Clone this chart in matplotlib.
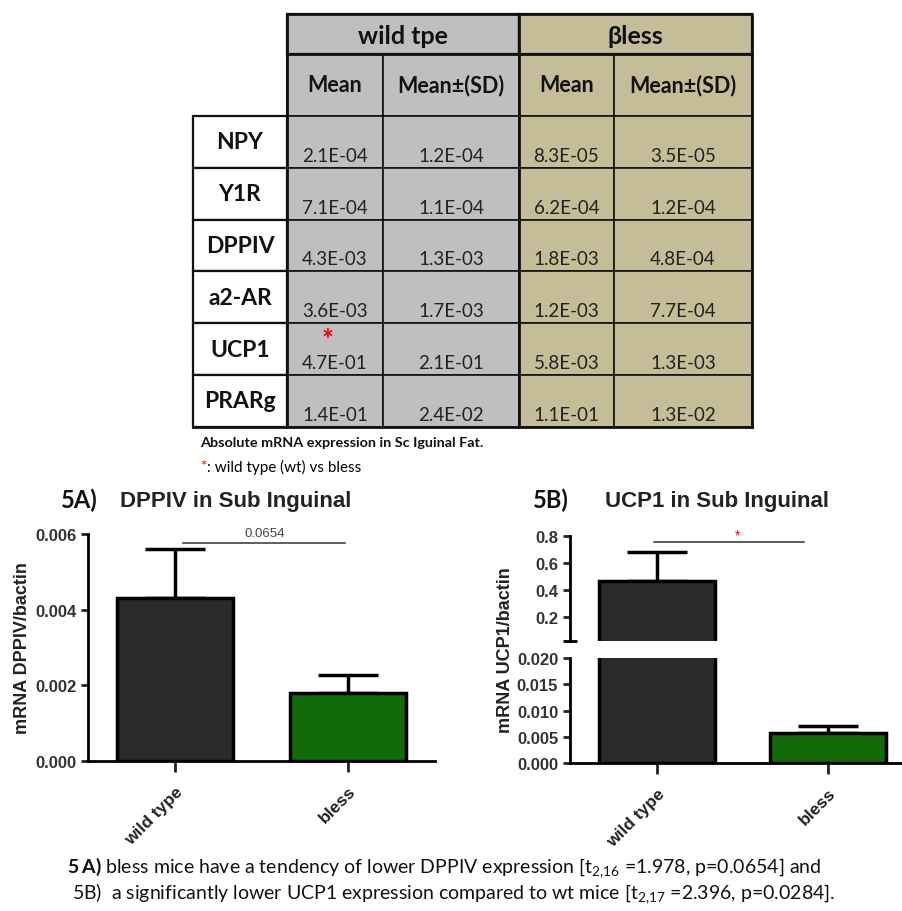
# Tabla de expresion de mRNA y graficas 5A / 5B
import numpy as np
import matplotlib.pyplot as plt
from matplotlib.patches import Rectangle

plt.rcParams['mathtext.fontset'] = 'custom'
plt.rcParams['mathtext.rm'] = 'Lato'
plt.rcParams['mathtext.bf'] = 'Lato:bold'

# Datos de la tabla
genes = ['NPY', 'Y1R', 'DPPIV', 'a2-AR', 'UCP1', 'PRARg']
wt_mean = [2.1e-4, 7.1e-4, 4.3e-3, 3.6e-3, 4.7e-1, 1.4e-1]
wt_sd = [1.2e-4, 1.1e-4, 1.3e-3, 1.7e-3, 2.1e-1, 2.4e-2]
bl_mean = [8.3e-5, 6.2e-4, 1.8e-3, 1.2e-3, 5.8e-3, 1.1e-1]
bl_sd = [3.5e-5, 1.2e-4, 4.8e-4, 7.7e-4, 1.3e-3, 1.3e-2]
grupos_tabla = ['wild tpe', 'βless']
subcols = ['Mean', 'Mean±(SD)']
gen_sig = 'UCP1'

# Datos de las barras
grupos = ['wild type', 'bless']
dppiv_mean = [4.3e-3, 1.8e-3]
dppiv_sd = [1.3e-3, 4.8e-4]
ucp1_mean = [0.47, 5.8e-3]
ucp1_sd = [0.21, 1.3e-3]
p_dppiv = '0.0654'

colores = ['#2a2a2a', '#136a0b']
gris = '#bfbfbf'
oliva = '#c4bd97'

fig = plt.figure(figsize=(9.03, 9.12), dpi=100)
axt = fig.add_axes([0, 0, 1, 1])
axt.set_xlim(0, 903)
axt.set_ylim(912, 0)
axt.axis('off')

# ---- Tabla ----
xs = [193, 287, 383, 519, 614, 752]
yh = [15, 55, 117]
dy = 51.8
fnt = 'Lato'
for g in range(2):
    c = [gris, oliva][g]
    axt.add_patch(Rectangle((xs[1 + 2*g], yh[0]), xs[3 + 2*g] - xs[1 + 2*g], yh[1] - yh[0],
                            facecolor=c, edgecolor='#111', lw=1.6))
    axt.text((xs[1 + 2*g] + xs[3 + 2*g]) / 2, (yh[0] + yh[1]) / 2 + 1, grupos_tabla[g],
             ha='center', va='center', fontsize=18, fontweight='bold', family=fnt, color='#111')
    for k in range(2):
        x0, x1 = xs[1 + 2*g + k], xs[2 + 2*g + k]
        axt.add_patch(Rectangle((x0, yh[1]), x1 - x0, yh[2] - yh[1],
                                facecolor=c, edgecolor='#111', lw=1.2))
        axt.text((x0 + x1) / 2, (yh[1] + yh[2]) / 2, subcols[k],
                 ha='center', va='center', fontsize=15.5, fontweight='bold', family=fnt,
                 color='#111')

for i, gen in enumerate(genes):
    y0 = yh[2] + i*dy
    axt.add_patch(Rectangle((xs[0], y0), xs[1] - xs[0], dy, facecolor='white',
                            edgecolor='#111', lw=1.6))
    axt.text((xs[0] + xs[1]) / 2, y0 + dy/2, gen, ha='center', va='center',
             fontsize=16.5, fontweight='bold', family=fnt, color='#111')
    valores = [wt_mean[i], wt_sd[i], bl_mean[i], bl_sd[i]]
    for j in range(4):
        c = gris if j < 2 else oliva
        axt.add_patch(Rectangle((xs[j + 1], y0), xs[j + 2] - xs[j + 1], dy, facecolor=c,
                                edgecolor='#111', lw=1.2))
        axt.text((xs[j + 1] + xs[j + 2]) / 2, y0 + dy - 4, '%.1E' % valores[j],
                 ha='center', va='bottom', fontsize=13.5, family=fnt, color='#222')
    if gen == gen_sig:
        axt.text((xs[1] + xs[2]) / 2 - 8, y0 + 17, '*', ha='center', va='center',
                 color='red', fontsize=20, fontweight='bold', family=fnt)

y_fin = yh[2] + len(genes)*dy
axt.plot([xs[1], xs[1], xs[5], xs[5]], [y_fin, yh[0], yh[0], y_fin], color='#111', lw=2)
axt.plot([xs[3], xs[3]], [yh[0], y_fin], color='#111', lw=2)
axt.plot([xs[0], xs[5]], [y_fin, y_fin], color='#111', lw=2)
axt.plot([xs[1], xs[5]], [yh[1], yh[1]], color='#111', lw=2)

axt.text(200, 443, 'Absolute mRNA expression in Sc Iguinal Fat.', ha='left', va='center',
         fontsize=10.4, fontweight='bold', family=fnt, color='#111')
axt.text(200, 467, '*', ha='left', va='center', fontsize=11, color='red', family=fnt)
axt.text(207, 467, ': wild type (wt) vs bless', ha='left', va='center', fontsize=11, family=fnt)

# ---- Titulos ----
axt.text(61, 500, '5A)', ha='left', va='center', fontsize=17, fontweight='bold', family=fnt,
         color='#111')
axt.text(120, 502, 'DPPIV in Sub Inguinal', ha='left', va='center', fontsize=16,
         fontweight='bold', family='Liberation Sans', color='#222')
axt.text(533, 500, '5B)', ha='left', va='center', fontsize=17, fontweight='bold', family=fnt,
         color='#111')
axt.text(605, 502, 'UCP1 in Sub Inguinal', ha='left', va='center', fontsize=16,
         fontweight='bold', family='Liberation Sans', color='#222')

# ---- Texto inferior ----
axt.text(67, 868, r'$\mathbf{5\,A)}$ bless mice have a tendency of lower DPPIV expression '
         r'[t$_{\mathrm{2{,}16}}$ =1.978, p=0.0654] and', ha='left', va='center',
         fontsize=14, family=fnt, color='#111')
axt.text(72, 894, r'5B)  a significantly lower UCP1 expression compared to wt mice '
         r'[t$_{\mathrm{2{,}17}}$ =2.396, p=0.0284].', ha='left', va='center',
         fontsize=14, family=fnt, color='#111')

pos = np.arange(len(grupos))
tick_font = dict(family='Liberation Sans', weight='bold', size=12)


def estilo(ax):
    for s in ['top', 'right']:
        ax.spines[s].set_visible(False)
    for s in ['left', 'bottom']:
        ax.spines[s].set_linewidth(2)
    ax.tick_params(axis='y', width=2, length=5, colors='#222')
    ax.tick_params(axis='x', width=2, length=8, colors='#222')
    for t in ax.get_yticklabels():
        t.set_fontproperties(tick_font)
        t.set_color('#333')


def barras(ax, medias, sds, ancho, minimo=0):
    medias = np.array(medias, dtype=float)
    visibles = medias > minimo
    alturas = np.where(visibles, medias, np.nan)
    ax.bar(pos, alturas, width=ancho, color=colores, edgecolor='black', linewidth=2.5, zorder=2)
    ax.errorbar(pos[visibles], medias[visibles],
                yerr=[np.zeros(visibles.sum()), np.array(sds)[visibles]], fmt='none',
                ecolor='black', elinewidth=2.5, capsize=21.5, capthick=2.5, zorder=1)


def xetiquetas(ax):
    ax.set_xticks(pos)
    ax.set_xticklabels(grupos, rotation=45, ha='right', rotation_mode='anchor')
    for t in ax.get_xticklabels():
        t.set_fontproperties(dict(family='Liberation Sans', weight='bold', size=12.5))
        t.set_color('#222')
    ax.tick_params(axis='x', pad=8)


# ---- 5A ----
ax1 = fig.add_axes([88/903, 1 - 762/912, (435 - 88)/903, (762 - 535)/912])
barras(ax1, dppiv_mean, dppiv_sd, 0.67)
ax1.set_xlim(-0.5, 1.5)
ax1.set_ylim(0, 0.006)
ax1.set_yticks([0, 0.002, 0.004, 0.006])
ax1.set_yticklabels(['%.3f' % v for v in ax1.get_yticks()])
xetiquetas(ax1)
estilo(ax1)
h = max(np.array(dppiv_mean) + np.array(dppiv_sd)) * 1.03
ax1.plot([pos[0] + 0.05, pos[1] - 0.02], [h, h], color='#333', lw=1.1, clip_on=False)
ax1.text((pos[0] + pos[1]) / 2 + 0.02, h + 0.0001, p_dppiv, ha='center', va='bottom',
         fontsize=9.5, color='#444', family='Liberation Sans')
fig.text(23/903, 1 - 648/912, 'mRNA DPPIV/bactin', rotation=90, ha='center', va='center',
         fontsize=13, fontweight='bold', family='Liberation Sans', color='#222')

# ---- 5B (eje cortado) ----
ax_lo = fig.add_axes([570/903, 1 - 764/912, 333/903, 105/912])
ax_hi = fig.add_axes([570/903, 1 - 642/912, 333/903, 105/912])
barras(ax_lo, ucp1_mean, ucp1_sd, 0.68)
barras(ax_hi, ucp1_mean, ucp1_sd, 0.68, minimo=0.022)
for ax in [ax_lo, ax_hi]:
    ax.set_xlim(-0.51, 1.44)
ax_lo.set_ylim(0, 0.02)
ax_lo.set_yticks([0, 0.005, 0.01, 0.015, 0.02])
ax_lo.set_yticklabels(['%.3f' % v for v in ax_lo.get_yticks()])
ax_lo.set_yticks([0.02], minor=True)
ax_lo.tick_params(axis='y', which='minor', direction='in', length=5, width=2)
xetiquetas(ax_lo)
estilo(ax_lo)

ax_hi.set_ylim(0.022, 0.8)
ax_hi.set_yticks([0.2, 0.4, 0.6, 0.8])
ax_hi.set_yticklabels(['%.1f' % v for v in ax_hi.get_yticks()])
ax_hi.set_yticks([0.022], minor=True)
ax_hi.tick_params(axis='y', which='minor', direction='inout', length=10, width=2)
ax_hi.set_xticks([])
estilo(ax_hi)
ax_hi.spines['bottom'].set_visible(False)
h2 = max(np.array(ucp1_mean) + np.array(ucp1_sd)) * 1.11
ax_hi.plot([pos[0] - 0.02, pos[1] - 0.14], [h2, h2], color='#333', lw=1.1, clip_on=False)
ax_hi.text((pos[0] + pos[1]) / 2 - 0.03, h2 + 0.005, '*', ha='center', va='bottom',
           fontsize=10, color='red', family='Liberation Sans')
fig.text(506/903, 1 - 650/912, 'mRNA UCP1/bactin', rotation=90, ha='center', va='center',
         fontsize=13, fontweight='bold', family='Liberation Sans', color='#222')

fig.savefig('out.png', dpi=100)
